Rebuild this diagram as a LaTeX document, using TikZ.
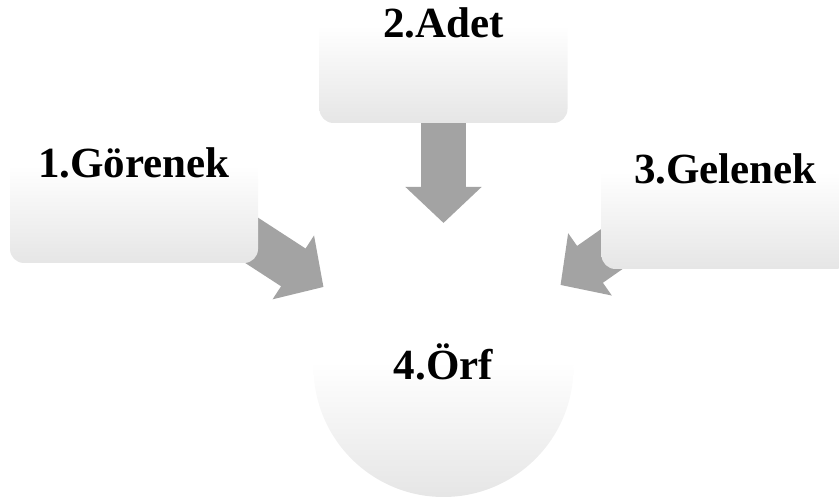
\documentclass[tikz,border=0pt]{standalone}
\usepackage{fontspec}
\setmainfont{Liberation Serif}
\usetikzlibrary{arrows.meta,backgrounds,calc,positioning}
\pgfdeclareverticalshading{softfade}{100bp}{color(0bp)=(gray!20); color(25bp)=(gray!20); color(64bp)=(white); color(100bp)=(white)}
\pgfdeclareverticalshading{discfade}{100bp}{color(0bp)=(gray!20); color(25bp)=(gray!20); color(51bp)=(white); color(100bp)=(white)}
\tikzset{%
card/.style={rectangle,rounded corners=14pt,inner sep=0pt,minimum width=248pt,minimum height=125pt,shading=softfade},
disc/.style={circle,inner sep=0pt,minimum size=260pt,shading=discfade},
lbl/.style={font=\bfseries\fontsize{43}{43}\selectfont,inner sep=0pt,anchor=base},
flow/.style={line width=45pt,gray!72,-{Triangle[length=36pt,width=74pt]}}
}
\begin{document}
\begin{tikzpicture}[x=1pt,y=1pt]
\useasboundingbox (0,0) rectangle (839,501);
\node[card] (gorenek) at (134,300.5) {};
\node[card] (adet) at (443.5,440.5) {};
\node[card] (gelenek) at (725.5,294.5) {};
\node[disc] (orf) at (443.5,134) {};
\node[lbl] (t1) at ([yshift=86pt]gorenek.south) {1.Görenek};
\node[lbl] (t2) at ([yshift=86pt]adet.south) {2.Adet};
\node[lbl] (t3) at ([yshift=86pt]gelenek.south) {3.Gelenek};
\node[lbl] (t4) at ([yshift=-13pt]orf.center) {4.Örf};
\coordinate (tip1) at ($(orf.center)+(-120,80)$);
\coordinate (tip2) at ($(orf.center)+(0,144)$);
\coordinate (tip3) at ($(orf.center)+(117,82)$);
\coordinate (s1) at ($(tip1)+(147:100)$);
\coordinate (s3) at ($(tip3)+(35:100)$);
\begin{scope}[on background layer]
\draw[flow] (s1) -- (tip1);
\draw[flow] (adet.center) -- (tip2);
\draw[flow] (s3) -- (tip3);
\end{scope}
\end{tikzpicture}
\end{document}
